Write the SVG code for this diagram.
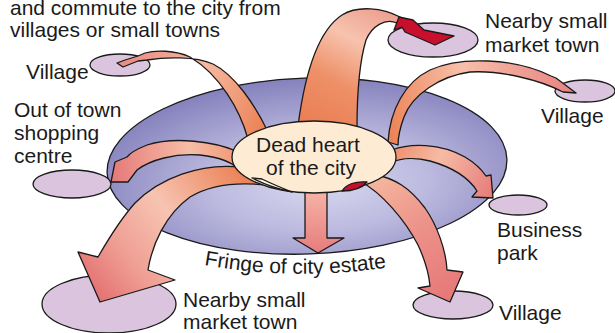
<svg xmlns="http://www.w3.org/2000/svg" width="615" height="333" viewBox="0 0 615 333">
<style>
text{font-family:"Liberation Sans",Arial,Helvetica,sans-serif;font-size:21px;fill:#1a1a1a}
.ol{stroke:#1a1a1a;stroke-width:1.3;stroke-linejoin:round}
.place{fill:#dac4de}
.mid{text-anchor:middle}
</style>
<defs>
<radialGradient id="ringG" cx="0.53" cy="0.6" r="0.6">
<stop offset="0" stop-color="#d8d8ef"/>
<stop offset="0.45" stop-color="#bcbadf"/>
<stop offset="1" stop-color="#8581bd"/>
</radialGradient>
<linearGradient id="gA" gradientUnits="userSpaceOnUse" x1="320" y1="125" x2="380" y2="8">
<stop offset="0" stop-color="#ea8056"/><stop offset="0.35" stop-color="#ee9068"/><stop offset="0.7" stop-color="#f7c3ae"/><stop offset="1" stop-color="#eda092"/>
</linearGradient>
<linearGradient id="gB" gradientUnits="userSpaceOnUse" x1="258" y1="133" x2="118" y2="62">
<stop offset="0" stop-color="#ec8458"/><stop offset="0.5" stop-color="#f6b9a2"/><stop offset="1" stop-color="#e98a80"/>
</linearGradient>
<linearGradient id="gC" gradientUnits="userSpaceOnUse" x1="393" y1="140" x2="576" y2="93">
<stop offset="0" stop-color="#ec8458"/><stop offset="0.45" stop-color="#f7c0aa"/><stop offset="1" stop-color="#e98282"/>
</linearGradient>
<linearGradient id="gD" gradientUnits="userSpaceOnUse" x1="236" y1="160" x2="111" y2="180">
<stop offset="0" stop-color="#f09a78"/><stop offset="0.35" stop-color="#f6bda7"/><stop offset="1" stop-color="#e57878"/>
</linearGradient>
<linearGradient id="gE" gradientUnits="userSpaceOnUse" x1="395" y1="152" x2="493" y2="198">
<stop offset="0" stop-color="#ee9270"/><stop offset="0.4" stop-color="#f6bba5"/><stop offset="1" stop-color="#e67a7a"/>
</linearGradient>
<linearGradient id="gF" gradientUnits="userSpaceOnUse" x1="370" y1="178" x2="450" y2="300">
<stop offset="0" stop-color="#f5b89f"/><stop offset="0.5" stop-color="#ec9088"/><stop offset="1" stop-color="#e77878"/>
</linearGradient>
<linearGradient id="gG" gradientUnits="userSpaceOnUse" x1="316" y1="192" x2="316" y2="253">
<stop offset="0" stop-color="#f6b3a6"/><stop offset="1" stop-color="#e67c7c"/>
</linearGradient>
<linearGradient id="gH" gradientUnits="userSpaceOnUse" x1="250" y1="172" x2="95" y2="295">
<stop offset="0" stop-color="#ea7e50"/><stop offset="0.45" stop-color="#f7c4b2"/><stop offset="0.75" stop-color="#ef9f94"/><stop offset="1" stop-color="#e47272"/>
</linearGradient>
</defs>

<g id="fringe-ring">
<ellipse cx="307" cy="166" rx="200" ry="88" transform="rotate(-2 307 166)" fill="url(#ringG)" class="ol"/>
</g>

<g id="village-top-left"><ellipse class="place ol" cx="120" cy="65" rx="30" ry="11"/></g>
<g id="market-town-top-right"><ellipse class="place ol" cx="433" cy="40" rx="45" ry="17"/></g>
<g id="village-right"><ellipse class="place ol" cx="585" cy="91" rx="30" ry="11"/></g>
<g id="shopping-centre"><ellipse class="place ol" cx="72" cy="184" rx="39" ry="14"/></g>
<g id="business-park"><ellipse class="place ol" cx="518" cy="205" rx="29" ry="10"/></g>
<g id="village-bottom-right"><ellipse class="place ol" cx="453" cy="305" rx="40" ry="14"/></g>
<g id="market-town-bottom-left"><ellipse class="place ol" cx="109" cy="304" rx="67" ry="29"/></g>

<g id="connectors">
<path class="ol" fill="url(#gA)" d="M298 126 C304 80 316 32 342 15 C358 5 383 8 400 17 L397 23 C385 18 372 26 366 40 C360 60 357 95 357 128 Z"/>
<path class="ol" fill="#c8102e" d="M399 17 L413 20 L424 30 L454 36 L435 45 L405 32 L402 27 L394 30 Z"/>
<path class="ol" fill="url(#gB)" d="M248 139 C240 110 220 75 190 57 C175 50 155 50 145 53 L138 56 L125 60 L117 63 L123 67 L138 61 L147 60 C165 57 195 56 213 64 C235 75 255 105 268 132 Z"/>
<path class="ol" fill="url(#gC)" d="M388 142 C390 110 405 82 430 70 C460 56 515 58 551 76 L556 78 L576 93 L563 92 C540 80 500 70 470 72 C440 76 412 95 404 117 C400 128 398 138 398 145 Z"/>
<path class="ol" fill="url(#gD)" d="M236 151 C215 142 175 136 147 145 C137 149 130 153 127 157 L115 162 L111 182 L128 182 L137 170 C150 160 175 153 200 155 C220 157 234 163 242 172 Z"/>
<path class="ol" fill="url(#gE)" d="M392 150 C410 143 440 143 465 157 C475 163 482 170 486 176 L491 175 L493 198 L472 197 L477 191 C470 180 455 168 430 161 C415 157 400 158 390 163 Z"/>
<path class="ol" fill="url(#gF)" d="M360 181 C382 193 405 220 418 245 C425 260 429 275 430 286 L418 288 L450 302 L463 272 L447 270 C446 250 437 225 425 208 C410 188 395 178 372 174 Z"/>
<path class="ol" fill="url(#gG)" d="M305 188 L305 238 L293 238 L318 253 L344 238 L327 238 L327 188 Z"/>
<path class="ol" fill="url(#gH)" d="M240 167 C200 163 160 178 135 203 C118 222 105 245 98 257 L78 252 L100 302 L175 280 L148 270 C152 245 165 215 190 197 C215 182 250 180 296 190 Z"/>
</g>

<g id="dead-heart">
<ellipse class="ol" cx="314" cy="157" rx="82" ry="36" fill="#fdebd4"/>
<path class="ol" fill="#fff6ea" d="M252 178 Q272 188 292 192 Q272 184 262 179 Z"/>
<path class="ol" fill="#c8102e" d="M342 191 C346 184 356 181 367 182 C362 188 352 191 342 191 Z"/>
<text class="mid" x="308" y="152">Dead heart</text>
<text class="mid" x="311" y="175">of the city</text>
</g>

<g id="labels">
<text x="10" y="15">and commute to the city from</text>
<text x="10" y="37">villages or small towns</text>
<text x="26" y="79">Village</text>
<text x="14" y="117">Out of town</text>
<text x="14" y="140">shopping</text>
<text x="14" y="163">centre</text>
<text x="485" y="28">Nearby small</text>
<text x="485" y="52">market town</text>
<text x="541" y="123">Village</text>
<text x="497" y="237">Business</text>
<text x="497" y="260">park</text>
<text x="499" y="320">Village</text>
<text x="183" y="307">Nearby small</text>
<text x="183" y="329">market town</text>
<path id="fringePath" d="M204 265 Q300 282 396 266" fill="none"/>
<text><textPath href="#fringePath">Fringe of city estate</textPath></text>
</g>
</svg>
